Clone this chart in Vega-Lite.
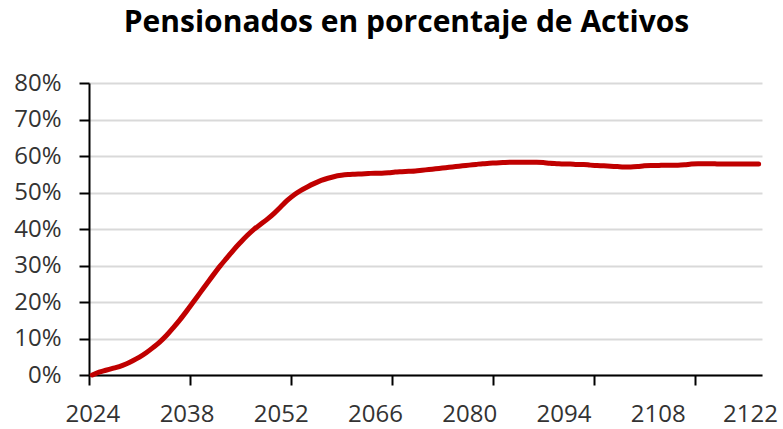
{
  "$schema": "https://vega.github.io/schema/vega-lite/v6.json",
  "autosize": {"type": "none"},
  "width": 673,
  "height": 292,
  "padding": {"left": 89, "top": 83, "right": 21, "bottom": 54},
  "background": "white",
  "title": {
    "text": "Pensionados en porcentaje de Activos",
    "font": "Open Sans",
    "fontSize": 30,
    "fontWeight": "bold",
    "color": "#000000",
    "anchor": "middle",
    "baseline": "alphabetic",
    "offset": 9,
    "dx": -19
  },
  "config": {
    "view": {"stroke": null},
    "axis": {"labelFont": "Open Sans", "labelFontSize": 24, "labelColor": "#333333"}
  },
  "data": {
    "values": [
      {"year": 2024, "ratio": 0.000}, {"year": 2025, "ratio": 0.008}, {"year": 2026, "ratio": 0.013},
      {"year": 2027, "ratio": 0.018}, {"year": 2028, "ratio": 0.023}, {"year": 2029, "ratio": 0.030},
      {"year": 2030, "ratio": 0.039}, {"year": 2031, "ratio": 0.049}, {"year": 2032, "ratio": 0.061},
      {"year": 2033, "ratio": 0.075}, {"year": 2034, "ratio": 0.090}, {"year": 2035, "ratio": 0.108},
      {"year": 2036, "ratio": 0.129}, {"year": 2037, "ratio": 0.151}, {"year": 2038, "ratio": 0.175},
      {"year": 2039, "ratio": 0.200}, {"year": 2040, "ratio": 0.225}, {"year": 2041, "ratio": 0.250},
      {"year": 2042, "ratio": 0.275}, {"year": 2043, "ratio": 0.299}, {"year": 2044, "ratio": 0.321},
      {"year": 2045, "ratio": 0.343}, {"year": 2046, "ratio": 0.363}, {"year": 2047, "ratio": 0.382},
      {"year": 2048, "ratio": 0.399}, {"year": 2049, "ratio": 0.413}, {"year": 2050, "ratio": 0.427},
      {"year": 2051, "ratio": 0.443}, {"year": 2052, "ratio": 0.461}, {"year": 2053, "ratio": 0.479},
      {"year": 2054, "ratio": 0.494}, {"year": 2055, "ratio": 0.506}, {"year": 2056, "ratio": 0.516},
      {"year": 2057, "ratio": 0.525}, {"year": 2058, "ratio": 0.533}, {"year": 2059, "ratio": 0.539},
      {"year": 2060, "ratio": 0.544}, {"year": 2061, "ratio": 0.547}, {"year": 2062, "ratio": 0.549},
      {"year": 2063, "ratio": 0.550}, {"year": 2064, "ratio": 0.551}, {"year": 2065, "ratio": 0.552},
      {"year": 2066, "ratio": 0.553}, {"year": 2067, "ratio": 0.553}, {"year": 2068, "ratio": 0.554},
      {"year": 2069, "ratio": 0.556}, {"year": 2070, "ratio": 0.557}, {"year": 2071, "ratio": 0.558},
      {"year": 2072, "ratio": 0.559}, {"year": 2073, "ratio": 0.561}, {"year": 2074, "ratio": 0.563},
      {"year": 2075, "ratio": 0.565}, {"year": 2076, "ratio": 0.567}, {"year": 2077, "ratio": 0.569},
      {"year": 2078, "ratio": 0.571}, {"year": 2079, "ratio": 0.573}, {"year": 2080, "ratio": 0.575},
      {"year": 2081, "ratio": 0.577}, {"year": 2082, "ratio": 0.579}, {"year": 2083, "ratio": 0.580},
      {"year": 2084, "ratio": 0.581}, {"year": 2085, "ratio": 0.582}, {"year": 2086, "ratio": 0.583},
      {"year": 2087, "ratio": 0.583}, {"year": 2088, "ratio": 0.583}, {"year": 2089, "ratio": 0.583},
      {"year": 2090, "ratio": 0.583}, {"year": 2091, "ratio": 0.582}, {"year": 2092, "ratio": 0.580},
      {"year": 2093, "ratio": 0.579}, {"year": 2094, "ratio": 0.578}, {"year": 2095, "ratio": 0.578},
      {"year": 2096, "ratio": 0.577}, {"year": 2097, "ratio": 0.577}, {"year": 2098, "ratio": 0.575},
      {"year": 2099, "ratio": 0.574}, {"year": 2100, "ratio": 0.573}, {"year": 2101, "ratio": 0.572},
      {"year": 2102, "ratio": 0.571}, {"year": 2103, "ratio": 0.570}, {"year": 2104, "ratio": 0.570},
      {"year": 2105, "ratio": 0.571}, {"year": 2106, "ratio": 0.573}, {"year": 2107, "ratio": 0.574},
      {"year": 2108, "ratio": 0.574}, {"year": 2109, "ratio": 0.575}, {"year": 2110, "ratio": 0.575},
      {"year": 2111, "ratio": 0.575}, {"year": 2112, "ratio": 0.576}, {"year": 2113, "ratio": 0.578},
      {"year": 2114, "ratio": 0.579}, {"year": 2115, "ratio": 0.579}, {"year": 2116, "ratio": 0.579},
      {"year": 2117, "ratio": 0.578}, {"year": 2118, "ratio": 0.578}, {"year": 2119, "ratio": 0.578},
      {"year": 2120, "ratio": 0.578}, {"year": 2121, "ratio": 0.578}, {"year": 2122, "ratio": 0.578},
      {"year": 2123, "ratio": 0.578}
    ]
  },
  "mark": {"type": "line", "color": "#C00000", "strokeWidth": 5, "interpolate": "monotone", "strokeCap": "round"},
  "encoding": {
    "x": {
      "field": "year",
      "type": "quantitative",
      "scale": {"domain": [2023.5, 2123.5], "nice": false, "zero": false},
      "axis": {
        "title": null,
        "values": [2023.5, 2024, 2038, 2038.5, 2052, 2053.5, 2066, 2068.5, 2080, 2083.5, 2094, 2098.5, 2108, 2113.5, 2122],
        "labelExpr": "datum.value % 1 != 0 ? '' : format(datum.value, 'd')",
        "grid": false,
        "domainColor": "#000000",
        "domainWidth": 2,
        "tickColor": {"condition": {"test": "datum.value % 1 == 0", "value": "transparent"}, "value": "#000000"},
        "tickWidth": 2,
        "tickSize": 10,
        "labelPadding": 17,
        "labelOffset": {"condition": {"test": "datum.value >= 2122", "value": -2}, "value": 0},
        "labelOverlap": false,
        "labelFlush": false,
        "labelBound": false
      }
    },
    "y": {
      "field": "ratio",
      "type": "quantitative",
      "scale": {"domain": [0, 0.8], "nice": false},
      "axis": {
        "title": null,
        "values": [0, 0.1, 0.2, 0.3, 0.4, 0.5, 0.6, 0.7, 0.8],
        "format": ".0%",
        "grid": true,
        "gridColor": "#d9d9d9",
        "gridWidth": 2,
        "domainColor": "#000000",
        "domainWidth": 2,
        "tickColor": "#000000",
        "tickWidth": 2,
        "tickSize": 10,
        "labelPadding": 18
      }
    }
  }
}
